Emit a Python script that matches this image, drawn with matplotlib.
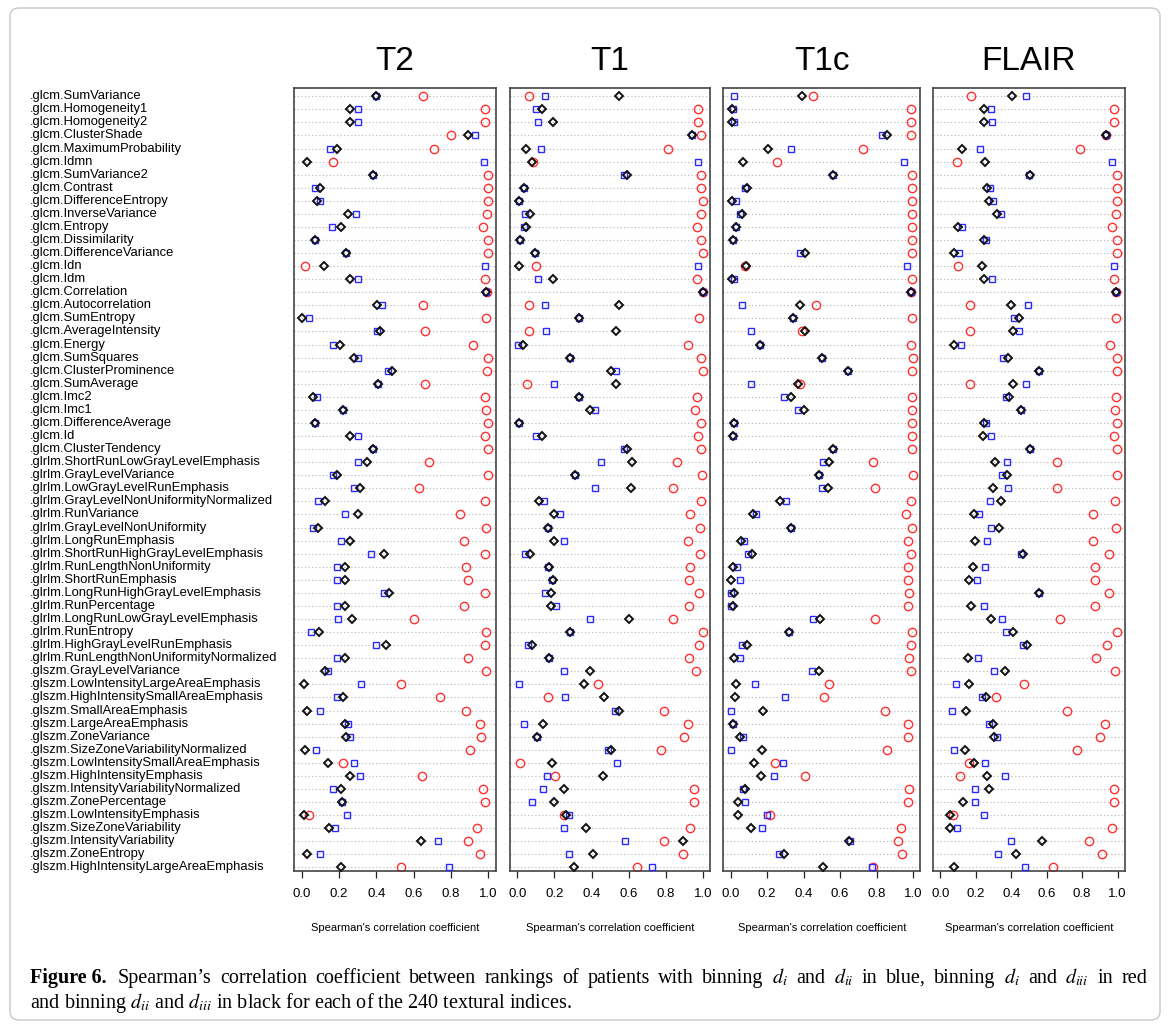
import matplotlib
matplotlib.use('Agg')
import matplotlib.pyplot as plt
import matplotlib.patches as patches
import matplotlib.transforms as transforms

plt.rcParams['font.family'] = ['Liberation Sans', 'DejaVu Sans']
plt.rcParams['mathtext.fontset'] = 'stix'

features = [
    '.glcm.SumVariance', '.glcm.Homogeneity1', '.glcm.Homogeneity2', '.glcm.ClusterShade',
    '.glcm.MaximumProbability', '.glcm.Idmn', '.glcm.SumVariance2', '.glcm.Contrast',
    '.glcm.DifferenceEntropy', '.glcm.InverseVariance', '.glcm.Entropy', '.glcm.Dissimilarity',
    '.glcm.DifferenceVariance', '.glcm.Idn', '.glcm.Idm', '.glcm.Correlation',
    '.glcm.Autocorrelation', '.glcm.SumEntropy', '.glcm.AverageIntensity', '.glcm.Energy',
    '.glcm.SumSquares', '.glcm.ClusterProminence', '.glcm.SumAverage', '.glcm.Imc2',
    '.glcm.Imc1', '.glcm.DifferenceAverage', '.glcm.Id', '.glcm.ClusterTendency',
    '.glrlm.ShortRunLowGrayLevelEmphasis', '.glrlm.GrayLevelVariance',
    '.glrlm.LowGrayLevelRunEmphasis', '.glrlm.GrayLevelNonUniformityNormalized',
    '.glrlm.RunVariance', '.glrlm.GrayLevelNonUniformity', '.glrlm.LongRunEmphasis',
    '.glrlm.ShortRunHighGrayLevelEmphasis', '.glrlm.RunLengthNonUniformity',
    '.glrlm.ShortRunEmphasis', '.glrlm.LongRunHighGrayLevelEmphasis', '.glrlm.RunPercentage',
    '.glrlm.LongRunLowGrayLevelEmphasis', '.glrlm.RunEntropy', '.glrlm.HighGrayLevelRunEmphasis',
    '.glrlm.RunLengthNonUniformityNormalized', '.glszm.GrayLevelVariance',
    '.glszm.LowIntensityLargeAreaEmphasis', '.glszm.HighIntensitySmallAreaEmphasis',
    '.glszm.SmallAreaEmphasis', '.glszm.LargeAreaEmphasis', '.glszm.ZoneVariance',
    '.glszm.SizeZoneVariabilityNormalized', '.glszm.LowIntensitySmallAreaEmphasis',
    '.glszm.HighIntensityEmphasis', '.glszm.IntensityVariabilityNormalized',
    '.glszm.ZonePercentage', '.glszm.LowIntensityEmphasis', '.glszm.SizeZoneVariability',
    '.glszm.IntensityVariability', '.glszm.ZoneEntropy', '.glszm.HighIntensityLargeAreaEmphasis',
]

panels = ['T2', 'T1', 'T1c', 'FLAIR']
tick_labels = ['0.0', '0.2', '0.4', '0.6', '0.8', '1.0']

# binning di vs dii (blue), di vs diii (red), dii vs diii (black)
t2_blue = [0.40, 0.30, 0.30, 0.93, 0.15, 0.975, 0.38, 0.07, 0.10, 0.29,
           0.16, 0.07, 0.235, 0.98, 0.30, 0.99, 0.43, 0.04, 0.405, 0.17,
           0.30, 0.46, 0.41, 0.08, 0.22, 0.07, 0.30, 0.38, 0.30, 0.17,
           0.28, 0.09, 0.23, 0.06, 0.21, 0.37, 0.19, 0.19, 0.44, 0.19,
           0.195, 0.05, 0.40, 0.19, 0.14, 0.32, 0.19, 0.10, 0.25, 0.26,
           0.075, 0.28, 0.31, 0.17, 0.215, 0.245, 0.18, 0.73, 0.10, 0.79]
t2_red = [0.65, 0.98, 0.98, 0.80, 0.71, 0.17, 1.0, 1.0, 1.0, 0.995,
          0.97, 1.0, 1.0, 0.02, 0.98, 0.995, 0.65, 0.99, 0.66, 0.92,
          1.0, 0.995, 0.66, 0.98, 0.99, 1.0, 0.98, 1.0, 0.68, 1.0,
          0.63, 0.98, 0.85, 0.985, 0.87, 0.98, 0.88, 0.89, 0.98, 0.87,
          0.60, 0.99, 0.98, 0.89, 0.99, 0.53, 0.74, 0.88, 0.955, 0.96,
          0.90, 0.22, 0.645, 0.97, 0.98, 0.04, 0.94, 0.89, 0.955, 0.53]
t2_black = [0.40, 0.26, 0.26, 0.89, 0.19, 0.03, 0.38, 0.10, 0.08, 0.25,
            0.21, 0.07, 0.235, 0.12, 0.26, 0.99, 0.405, 0.0, 0.42, 0.205,
            0.28, 0.485, 0.41, 0.06, 0.22, 0.07, 0.26, 0.38, 0.35, 0.19,
            0.31, 0.125, 0.30, 0.085, 0.26, 0.44, 0.23, 0.23, 0.47, 0.23,
            0.27, 0.095, 0.45, 0.23, 0.125, 0.01, 0.22, 0.03, 0.23, 0.24,
            0.02, 0.14, 0.26, 0.21, 0.215, 0.01, 0.145, 0.64, 0.03, 0.21]

t1_blue = [0.15, 0.10, 0.11, 0.94, 0.125, 0.975, 0.575, 0.035, 0.01, 0.04,
           0.035, 0.013, 0.095, 0.975, 0.11, 1.0, 0.15, 0.33, 0.153, 0.005,
           0.285, 0.53, 0.20, 0.33, 0.42, 0.01, 0.10, 0.575, 0.45, 0.31,
           0.42, 0.145, 0.23, 0.165, 0.25, 0.04, 0.165, 0.185, 0.15, 0.21,
           0.39, 0.285, 0.055, 0.17, 0.25, 0.007, 0.257, 0.526, 0.036, 0.108,
           0.487, 0.537, 0.16, 0.14, 0.08, 0.28, 0.25, 0.58, 0.276, 0.725]
t1_red = [0.065, 0.975, 0.975, 0.99, 0.81, 0.085, 0.99, 0.99, 1.0, 0.99,
          0.97, 0.99, 1.0, 0.10, 0.97, 1.0, 0.065, 0.98, 0.063, 0.92,
          0.99, 1.0, 0.05, 0.97, 0.955, 0.99, 0.975, 0.99, 0.86, 0.995,
          0.84, 0.99, 0.93, 0.985, 0.92, 0.985, 0.93, 0.925, 0.98, 0.925,
          0.84, 1.0, 0.98, 0.925, 0.96, 0.435, 0.163, 0.79, 0.92, 0.90,
          0.775, 0.016, 0.205, 0.953, 0.953, 0.25, 0.93, 0.79, 0.89, 0.645]
t1_black = [0.55, 0.135, 0.19, 0.94, 0.045, 0.077, 0.59, 0.035, 0.01, 0.07,
            0.045, 0.013, 0.095, 0.007, 0.19, 1.0, 0.55, 0.33, 0.53, 0.03,
            0.285, 0.505, 0.53, 0.33, 0.39, 0.01, 0.135, 0.59, 0.62, 0.31,
            0.61, 0.117, 0.195, 0.165, 0.195, 0.07, 0.17, 0.19, 0.18, 0.18,
            0.60, 0.285, 0.08, 0.17, 0.39, 0.36, 0.467, 0.545, 0.136, 0.108,
            0.505, 0.187, 0.46, 0.25, 0.20, 0.262, 0.37, 0.89, 0.41, 0.305]

t1c_blue = [0.02, 0.015, 0.02, 0.83, 0.33, 0.95, 0.56, 0.08, 0.03, 0.05,
            0.03, 0.015, 0.38, 0.965, 0.02, 0.99, 0.06, 0.34, 0.11, 0.163,
            0.50, 0.645, 0.11, 0.295, 0.37, 0.016, 0.015, 0.56, 0.505, 0.486,
            0.50, 0.305, 0.14, 0.33, 0.073, 0.095, 0.037, 0.05, 0.0, 0.0,
            0.45, 0.32, 0.06, 0.05, 0.445, 0.135, 0.296, 0.004, 0.013, 0.067,
            0.004, 0.287, 0.24, 0.065, 0.08, 0.20, 0.17, 0.655, 0.265, 0.775]
t1c_red = [0.45, 0.99, 0.99, 0.99, 0.725, 0.255, 0.995, 0.995, 0.995, 0.995,
           0.995, 0.995, 0.995, 0.08, 0.995, 0.99, 0.47, 0.995, 0.39, 0.99,
           0.998, 0.995, 0.38, 0.995, 0.995, 0.995, 0.995, 0.995, 0.78, 0.998,
           0.79, 0.99, 0.96, 0.993, 0.975, 0.99, 0.97, 0.975, 0.98, 0.97,
           0.79, 0.995, 0.99, 0.98, 0.99, 0.54, 0.51, 0.846, 0.97, 0.97,
           0.857, 0.245, 0.41, 0.98, 0.97, 0.215, 0.935, 0.915, 0.94, 0.78]
t1c_black = [0.39, 0.005, 0.005, 0.855, 0.205, 0.07, 0.56, 0.09, 0.005, 0.06,
             0.03, 0.015, 0.405, 0.085, 0.005, 0.99, 0.38, 0.34, 0.405, 0.163,
             0.50, 0.645, 0.37, 0.33, 0.40, 0.016, 0.01, 0.56, 0.54, 0.486,
             0.535, 0.27, 0.125, 0.33, 0.055, 0.115, 0.01, 0.0, 0.02, 0.01,
             0.49, 0.32, 0.09, 0.02, 0.485, 0.03, 0.025, 0.177, 0.013, 0.05,
             0.17, 0.128, 0.165, 0.077, 0.042, 0.042, 0.11, 0.65, 0.29, 0.506]

flair_blue = [0.485, 0.288, 0.293, 0.934, 0.225, 0.966, 0.50, 0.278, 0.30, 0.344,
              0.122, 0.26, 0.103, 0.98, 0.293, 0.99, 0.496, 0.415, 0.442, 0.118,
              0.353, 0.558, 0.483, 0.368, 0.453, 0.258, 0.288, 0.506, 0.374, 0.348,
              0.38, 0.278, 0.22, 0.288, 0.263, 0.455, 0.25, 0.205, 0.556, 0.248,
              0.348, 0.372, 0.464, 0.212, 0.303, 0.086, 0.235, 0.064, 0.274, 0.32,
              0.075, 0.25, 0.363, 0.197, 0.194, 0.248, 0.092, 0.40, 0.323, 0.48]
flair_red = [0.173, 0.98, 0.98, 0.934, 0.79, 0.092, 0.996, 0.994, 0.994, 0.992,
             0.97, 0.996, 0.996, 0.10, 0.98, 0.99, 0.167, 0.99, 0.167, 0.955,
             0.994, 0.996, 0.17, 0.99, 0.983, 0.998, 0.98, 0.996, 0.656, 0.996,
             0.658, 0.985, 0.86, 0.99, 0.863, 0.95, 0.87, 0.874, 0.95, 0.874,
             0.673, 0.994, 0.94, 0.88, 0.985, 0.47, 0.316, 0.712, 0.93, 0.90,
             0.77, 0.164, 0.11, 0.98, 0.98, 0.07, 0.97, 0.84, 0.91, 0.635]
flair_black = [0.404, 0.244, 0.244, 0.934, 0.12, 0.252, 0.504, 0.265, 0.276, 0.32,
               0.098, 0.244, 0.08, 0.237, 0.244, 0.99, 0.40, 0.444, 0.408, 0.08,
               0.38, 0.558, 0.408, 0.385, 0.453, 0.244, 0.24, 0.506, 0.308, 0.376,
               0.30, 0.342, 0.19, 0.33, 0.197, 0.466, 0.182, 0.16, 0.556, 0.173,
               0.284, 0.408, 0.49, 0.158, 0.363, 0.164, 0.26, 0.145, 0.30, 0.305,
               0.14, 0.188, 0.265, 0.276, 0.126, 0.055, 0.055, 0.573, 0.427, 0.08]

blue_series = [t2_blue, t1_blue, t1c_blue, flair_blue]
red_series = [t2_red, t1_red, t1c_red, flair_red]
black_series = [t2_black, t1_black, t1c_black, flair_black]

W, H = 1170, 1028
fig = plt.figure(figsize=(W / 100, H / 100), dpi=100)

# pixel position of 0.0 and length of one unit on each panel
zero_px = [301.7, 517.3, 730.7, 940.3]
unit_px = [186.6, 185.7, 182.3, 177.3]
top_px, bottom_px = 88, 871


def draw_panel(ax, blue, red, black):
    n = len(features)
    ys = list(range(n, 0, -1))
    for y in ys:
        ax.axhline(y, color='#b4b4b4', linestyle=(0, (1, 2.2)), linewidth=0.8, zorder=1)
    ax.plot(red, ys, linestyle='none', marker='o', markersize=6.0,
            markerfacecolor='none', markeredgecolor='#ff3030', markeredgewidth=1.0, zorder=2)
    ax.plot(blue, ys, linestyle='none', marker='s', markersize=4.7,
            markerfacecolor='none', markeredgecolor='#2a2aff', markeredgewidth=1.0, zorder=3)
    ax.plot(black, ys, linestyle='none', marker='D', markersize=4.5,
            markerfacecolor='none', markeredgecolor='#111111', markeredgewidth=1.4, zorder=4)
    ax.set_xlim(-0.04, 1.04)
    ax.set_ylim(0.72, n + 0.63)
    ax.set_yticks([])
    ax.set_xticks([0, 0.2, 0.4, 0.6, 0.8, 1.0])
    ax.set_xticklabels(tick_labels)
    ax.tick_params(axis='x', length=5, width=0.9, pad=7, labelsize=9.5, color='#222222')
    for sp in ax.spines.values():
        sp.set_color('#444444')
        sp.set_linewidth(1.2)


axes = []
for i, name in enumerate(panels):
    left = zero_px[i] - 0.04 * unit_px[i]
    width = 1.08 * unit_px[i]
    ax = fig.add_axes([left / W, 1 - bottom_px / H, width / W, (bottom_px - top_px) / H])
    draw_panel(ax, blue_series[i], red_series[i], black_series[i])
    cx = (left + width / 2) / W
    fig.text(cx, 1 - 62 / H, name, fontsize=24, ha='center', va='center')
    fig.text(cx, 1 - 928 / H, "Spearman's correlation coefficient", fontsize=8,
             ha='center', va='center')
    axes.append(ax)

trans = transforms.blended_transform_factory(fig.transFigure, axes[0].transData)
for j, label in enumerate(features):
    axes[0].text(30 / W, len(features) - j, label, transform=trans, fontsize=9.4,
                 ha='left', va='center', clip_on=False)

border = patches.FancyBboxPatch((10 / W, 8 / H), 1150 / W, 1012 / H,
                                boxstyle='round,pad=0,rounding_size=0.008',
                                transform=fig.transFigure, facecolor='none',
                                edgecolor='#c8c8c8', linewidth=1.0)
fig.patches.append(border)

serif = ['Liberation Serif', 'DejaVu Serif']
cap_size = 14.5
fig.text(30 / W, 1 - 983 / H, 'Figure 6.', fontsize=cap_size, fontweight='bold',
         family=serif, ha='left', va='baseline')

# first caption line is justified between two x positions
line1 = ('Spearman\u2019s correlation coefficient between rankings of patients with binning '
         '$d_{i}$ and $d_{ii}$ in blue, binning $d_{i}$ and $d_{iii}$ in red').split(' ')
renderer = fig.canvas.get_renderer()
words = []
total = 0.0
for w in line1:
    t = fig.text(0, 1 - 983 / H, w, fontsize=cap_size, family=serif, ha='left', va='baseline')
    wd = t.get_window_extent(renderer).width
    words.append((t, wd))
    total += wd
x0, x1 = 118.0, 1147.0
gap = (x1 - x0 - total) / (len(words) - 1)
x = x0
for t, wd in words:
    t.set_x(x / W)
    x += wd + gap

fig.text(30 / W, 1 - 1008 / H,
         'and binning $d_{ii}$ and $d_{iii}$ in black for each of the 240 textural indices.',
         fontsize=cap_size, family=serif, ha='left', va='baseline')

fig.savefig('out.png', dpi=100)
